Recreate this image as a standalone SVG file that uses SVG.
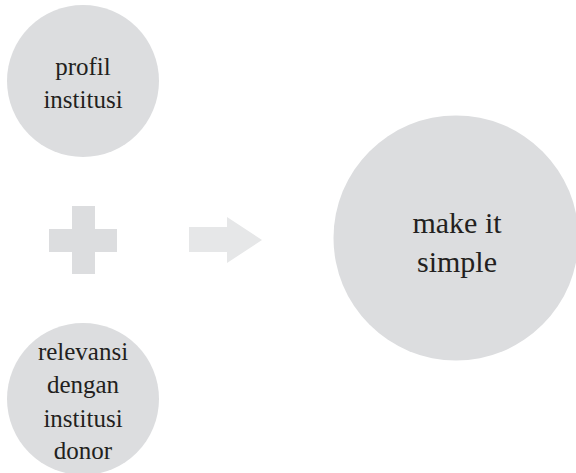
<svg xmlns="http://www.w3.org/2000/svg" width="576" height="473" viewBox="0 0 576 473">
<style>
.node{fill:#dcdddf}
.t{fill:#231f20;text-anchor:middle;font-family:"Liberation Serif","Times New Roman",serif}
.s{font-size:25px}
.b{font-size:30px}
.sym{fill:#dcdddf}
.arr{fill:#e6e7e8}
</style>
<rect width="576" height="473" fill="#ffffff"/>
<g id="profil">
<circle class="node" cx="83" cy="81" r="76"/>
<text class="t s" x="83" y="75">profil</text>
<text class="t s" x="83" y="108">institusi</text>
</g>
<g id="relevansi">
<circle class="node" cx="83" cy="399" r="76"/>
<text class="t s" x="83" y="360">relevansi</text>
<text class="t s" x="83" y="393">dengan</text>
<text class="t s" x="83" y="427">institusi</text>
<text class="t s" x="83" y="459">donor</text>
</g>
<g id="simple">
<circle class="node" cx="456" cy="238" r="122.5"/>
<text class="t b" x="457" y="233">make it</text>
<text class="t b" x="457" y="272">simple</text>
</g>
<g id="connectors">
<path class="sym" d="M72 206H95V229H117V252H95V274H72V252H49V229H72Z"/>
<path class="arr" d="M189 227H227V217L262 240L227 263V252H189Z"/>
</g>
</svg>
